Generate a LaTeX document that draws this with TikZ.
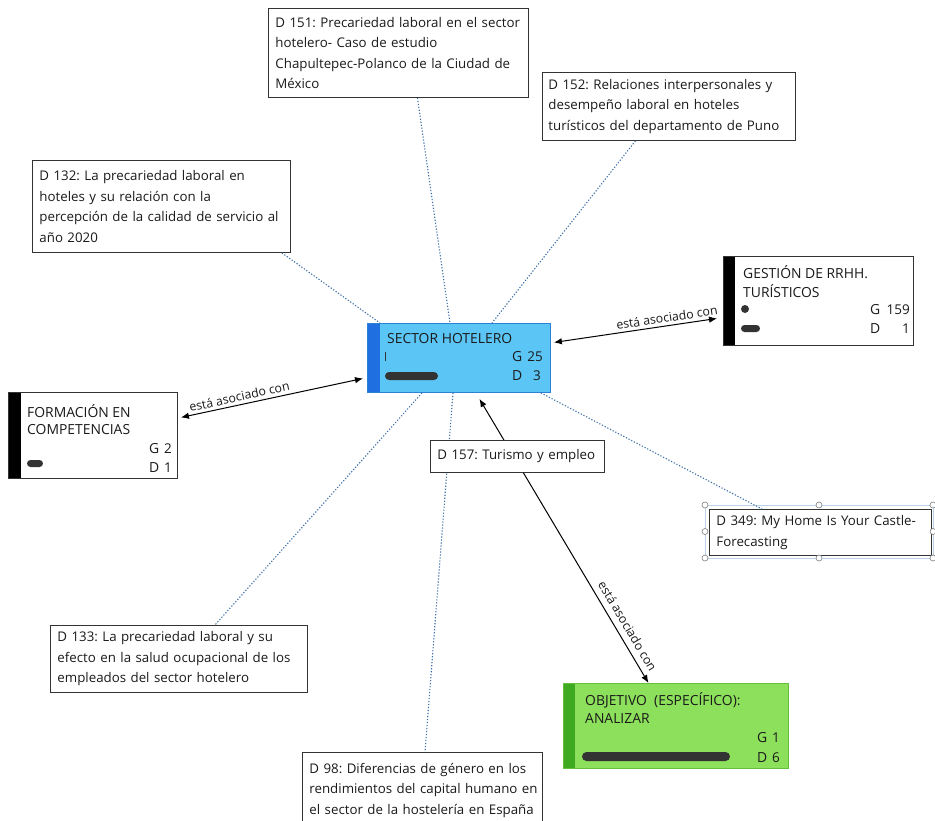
\documentclass[tikz,border=0pt]{standalone}
\usepackage{fontspec}
\setmainfont{Open Sans}
\usetikzlibrary{arrows.meta,calc}
\definecolor{txt}{HTML}{1A1A1A}
\definecolor{docborder}{HTML}{333333}
\definecolor{dotblue}{HTML}{3C6FA6}
\definecolor{secfill}{HTML}{5BC6F6}
\definecolor{secstrip}{HTML}{1F6FE0}
\definecolor{secborder}{HTML}{2C82D6}
\definecolor{objfill}{HTML}{8DE05B}
\definecolor{objstrip}{HTML}{3DAA1F}
\definecolor{objborder}{HTML}{66BF3C}
\definecolor{bardark}{HTML}{333333}
\definecolor{selblue}{HTML}{B9D3EA}
\newcommand{\oneline}[1]{\mbox{#1}}
\begin{document}
\begin{tikzpicture}[x=1pt,y=-1pt,
  docbox/.style={draw=docborder, fill=white, line width=0.9pt, anchor=north west, inner xsep=7pt, inner ysep=0pt, align=left, text=txt, font=\fontsize{13.3}{20.5}\selectfont\frenchspacing},
  conbox/.style={anchor=north west, inner sep=0pt, line width=0.9pt},
  lbl/.style={anchor=base west, inner sep=0pt, text=txt, font=\fontsize{13.9}{18}\selectfont},
  num/.style={anchor=base east, inner sep=0pt, text=txt, font=\fontsize{13.5}{18}\selectfont},
  dotlink/.style={draw=dotblue, line width=1.1pt, dash pattern=on 1.2pt off 1.8pt},
  assoc/.style={draw=black, line width=1pt, {Latex[length=8pt,width=6.5pt]}-{Latex[length=8pt,width=6.5pt]}},
  assoclbl/.style={font=\fontsize{12.3}{14}\selectfont, text=txt, sloped, inner sep=1pt},
  handle/.style={draw=gray, fill=white, line width=0.6pt},
]
\useasboundingbox (0,0) rectangle (935,820);
\clip (0,0) rectangle (935,820);
\fill[white] (0,0) rectangle (935,820);

% ---------- concept: SECTOR HOTELERO ----------
\node[conbox, draw=secborder, fill=secfill, minimum width=183, minimum height=69] (sector) at (367,323) {};
\fill[secstrip] (sector.north west) rectangle ($(sector.south west)+(13,0)$);
\draw[secborder, line width=0.9pt] (sector.north west) rectangle (sector.south east);
\node[lbl] (sectitle) at (387,343) {SECTOR HOTELERO};
\fill[bardark] (384.5,352) rectangle (385.8,361);
\node[lbl] (secG) at (512,361) {G};
\node[num] (secGn) at (543,361) {25};
\fill[bardark, rounded corners=4pt] (385,372) rectangle (438,380);
\node[lbl] (secD) at (512,380) {D};
\node[num] (secDn) at (541,380) {3};

% ---------- concept: GESTION ----------
\node[conbox, draw=docborder, fill=white, minimum width=190, minimum height=89] (gest) at (723,256) {};
\fill[black] (gest.north west) rectangle ($(gest.south west)+(12,0)$);
\draw[docborder, line width=0.9pt] (gest.north west) rectangle (gest.south east);
\node[lbl] (gestt1) at (743,278) {GESTIÓN DE RRHH.};
\node[lbl] (gestt2) at (743,297) {TURÍSTICOS};
\fill[bardark] (745,309) circle (4);
\node[lbl] (gestG) at (870,314) {G};
\node[num] (gestGn) at (910,314) {159};
\fill[bardark, rounded corners=3.5pt] (741,325) rectangle (760,332);
\node[lbl] (gestD) at (870,333) {D};
\node[num] (gestDn) at (910,333) {1};

% ---------- concept: FORMACION ----------
\node[conbox, draw=docborder, fill=white, minimum width=169, minimum height=86] (form) at (8,392) {};
\fill[black] (form.north west) rectangle ($(form.south west)+(13,0)$);
\draw[docborder, line width=0.9pt] (form.north west) rectangle (form.south east);
\node[lbl] (formt1) at (27,417) {FORMACIÓN EN};
\node[lbl] (formt2) at (27,434) {COMPETENCIAS};
\node[lbl] (formG) at (149,453) {G};
\node[num] (formGn) at (172,453) {2};
\fill[bardark, rounded corners=3.5pt] (27,460) rectangle (43,467);
\node[lbl] (formD) at (149,472) {D};
\node[num] (formDn) at (172,472) {1};

% ---------- concept: OBJETIVO ----------
\node[conbox, draw=objborder, fill=objfill, minimum width=225, minimum height=85] (obj) at (563,683) {};
\fill[objstrip] (obj.north west) rectangle ($(obj.south west)+(12,0)$);
\draw[objborder, line width=0.9pt] (obj.north west) rectangle (obj.south east);
\node[lbl] (objt1) at (585,705) {OBJETIVO\ \ (ESPECÍFICO):};
\node[lbl] (objt2) at (585,723) {ANALIZAR};
\node[lbl] (objG) at (757,742) {G};
\node[num] (objGn) at (780,742) {1};
\fill[bardark, rounded corners=4.5pt] (582,752) rectangle (730,761);
\node[lbl] (objD) at (757,762) {D};
\node[num] (objDn) at (780,762) {6};

% ---------- documents ----------
\node[docbox, text width=246, minimum height=89] (d151) at (268,8) {\oneline{D 151: Precariedad laboral en el sector}\\\oneline{hotelero- Caso de estudio}\\\oneline{Chapultepec-Polanco de la Ciudad de}\\\oneline{México}};
\node[docbox, inner xsep=6pt, text width=241, minimum height=68] (d152) at (542,72) {\oneline{D 152: Relaciones interpersonales y}\\\oneline{desempeño laboral en hoteles}\\\oneline{turísticos del departamento de Puno}};
\node[docbox, text width=244, minimum height=92] (d132) at (32,160) {\oneline{D 132: La precariedad laboral en}\\\oneline{hoteles y su relación con la}\\\oneline{percepción de la calidad de servicio al}\\\oneline{año 2020}};
\draw[selblue, line width=0.8pt] (705,505) rectangle (933,558);
\node[docbox, text width=208, minimum height=46] (d349) at (709,509) {\oneline{D 349: My Home Is Your Castle-}\\\oneline{Forecasting}};
\foreach \hx/\hy in {705/505, 819/505, 933/505, 705/531.5, 933/531.5, 705/558, 819/558, 933/558}
  \draw[handle] (\hx,\hy) circle (3);
\node[docbox, text width=243, minimum height=67] (d133) at (50,625) {\oneline{D 133: La precariedad laboral y su}\\\oneline{efecto en la salud ocupacional de los}\\\oneline{empleados del sector hotelero}};
\node[docbox, text width=226, minimum height=76] (d98) at (302,752) {\oneline{D 98: Diferencias de género en los}\\\oneline{rendimientos del capital humano en}\\\oneline{el sector de la hostelería en España}};

% ---------- dotted links ----------
\draw[dotlink] ($(d132.south east)+(-9,0)$) -- ($(sector.north west)+(13,0)$);
\draw[dotlink] ($(d151.south)+(19,0)$) -- ($(sector.north west)+(83,0)$);
\draw[dotlink] ($(d152.south)+(-33.5,0)$) -- ($(sector.north west)+(125,0)$);
\draw[dotlink] ($(sector.south east)+(-10,0)$) -- ($(d349.north west)+(53,0)$);
\draw[dotlink] ($(sector.south west)+(55,0)$) -- ($(d133.north west)+(165,0)$);
\draw[dotlink] ($(sector.south west)+(86,0)$) -- ($(d98.north west)+(123,0)$);

% ---------- association links ----------
\draw[assoc] ($(form.east)+(3,-18)$) -- node[assoclbl, above=2pt, pos=0.33] {está asociado con} ($(sector.west)+(-4,20.5)$);
\draw[assoc] ($(sector.east)+(3,-15.5)$) -- node[assoclbl, above=2pt, pos=0.7] {está asociado con} ($(gest.west)+(-6,17.5)$);
\draw[assoc] ($(sector.south)+(20.5,6)$) -- node[assoclbl, above=5pt, pos=0.82] {está asociado con} ($(obj.north)+(-27.5,0)$);

% ---------- D 157 on top of the link ----------
\node[docbox, text width=160, minimum height=32] (d157) at (430,440) {\oneline{D 157: Turismo y empleo}};
\end{tikzpicture}
\end{document}
